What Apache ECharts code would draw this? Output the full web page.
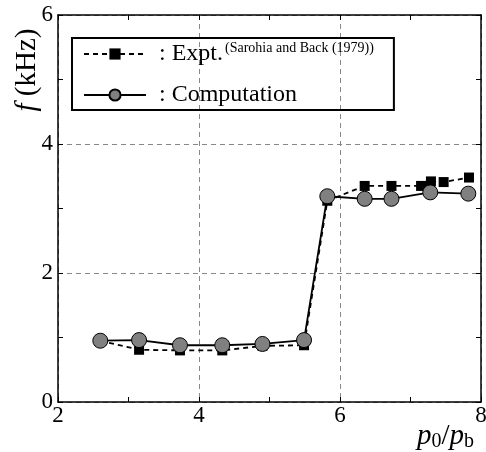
<!DOCTYPE html>
<html><head><meta charset="utf-8">
<script src="https://cdn.jsdelivr.net/npm/echarts@6/dist/echarts.min.js"></script>
<style>html,body{margin:0;padding:0;background:#fff}#c{width:486px;height:452px}</style>
</head><body><div id="c"></div>
<script>
// Data
const exptX = [2.60, 3.15, 3.73, 4.33, 4.90, 5.49, 5.82, 6.35, 6.73, 7.15, 7.29, 7.47, 7.83];
const exptY = [0.95, 0.81, 0.80, 0.80, 0.87, 0.88, 3.12, 3.35, 3.35, 3.35, 3.42, 3.41, 3.48];
const compX = [2.60, 3.15, 3.73, 4.33, 4.90, 5.49, 5.82, 6.35, 6.73, 7.28, 7.82];
const compY = [0.95, 0.96, 0.88, 0.88, 0.90, 0.96, 3.19, 3.15, 3.15, 3.25, 3.23];
const xTicks = [2, 4, 6, 8];
const yTicks = [0, 2, 4, 6];

const FONT = '"Liberation Serif", "Times New Roman", serif';
const chart = echarts.init(document.getElementById('c'));
const pair = (xs, ys) => xs.map((x, i) => [x, ys[i]]);

const tickCommon = {
  axisLine: {show: true, onZero: false, lineStyle: {color: '#000', width: 1.5}},
  axisTick: {show: true, inside: true, length: 5, lineStyle: {color: '#000', width: 1}},
  minorTick: {show: true, splitNumber: 2, length: 5, lineStyle: {color: '#000', width: 1}},
};

chart.setOption({
  animation: false,
  backgroundColor: '#fff',
  grid: {left: 58, right: 5, top: 15, bottom: 50, containLabel: false, outerBoundsMode: 'none'},
  xAxis: [{
    type: 'value', min: xTicks[0], max: xTicks[xTicks.length - 1], interval: 2,
    position: 'bottom',
    ...tickCommon,
    axisLabel: {color: '#000', fontFamily: FONT, fontSize: 23, margin: 2},
    splitLine: {show: true, lineStyle: {color: '#888', type: [5, 4], width: 1}}
  }, {
    type: 'value', min: xTicks[0], max: xTicks[xTicks.length - 1], interval: 2,
    position: 'top',
    ...tickCommon,
    axisLabel: {show: false},
    splitLine: {show: false}
  }],
  yAxis: [{
    type: 'value', min: yTicks[0], max: yTicks[yTicks.length - 1], interval: 2,
    position: 'left',
    ...tickCommon,
    axisLabel: {color: '#000', fontFamily: FONT, fontSize: 23, margin: 5},
    splitLine: {show: true, lineStyle: {color: '#888', type: [5, 4], width: 1}}
  }, {
    type: 'value', min: yTicks[0], max: yTicks[yTicks.length - 1], interval: 2,
    position: 'right',
    ...tickCommon,
    axisLabel: {show: false},
    splitLine: {show: false}
  }],
  legend: {
    orient: 'vertical', left: 72, top: 38,
    padding: [3, 20, 3, 11],
    itemWidth: 62, itemHeight: 14, itemGap: 16,
    borderColor: '#000', borderWidth: 2, borderRadius: 0,
    data: ['Expt', 'Computation'],
    formatter: function (name) {
      return name === 'Expt' ? '{a|: Expt.}{sup|(Sarohia and Back (1979))}' : '{a|: Computation}';
    },
    textStyle: {
      rich: {
        a: {fontFamily: FONT, fontSize: 24, color: '#000', padding: [0, 0, 0, 8], lineHeight: 30},
        sup: {fontFamily: FONT, fontSize: 14, color: '#000', padding: [0, 0, 12, 2], lineHeight: 30}
      }
    }
  },
  graphic: [{
    type: 'text', x: 27, y: 70, rotation: Math.PI / 2,
    style: {
      text: '{i|f}{n| (kHz)}', align: 'center', verticalAlign: 'middle',
      rich: {
        i: {fontFamily: FONT, fontSize: 29, fontStyle: 'italic', fill: '#000'},
        n: {fontFamily: FONT, fontSize: 29, fill: '#000'}
      }
    }
  }, {
    type: 'text', x: 474, y: 436,
    style: {
      text: '{i|p}{s|0}{n|/}{i|p}{s|b}', align: 'right', verticalAlign: 'middle',
      rich: {
        i: {fontFamily: FONT, fontSize: 29, fontStyle: 'italic', fill: '#000', lineHeight: 30},
        n: {fontFamily: FONT, fontSize: 29, fill: '#000', lineHeight: 30},
        s: {fontFamily: FONT, fontSize: 20, fill: '#000', padding: [12, 0, 0, 0], lineHeight: 30}
      }
    }
  }],
  series: [{
    name: 'Expt', type: 'line', data: pair(exptX, exptY),
    symbol: 'rect', symbolSize: 10,
    lineStyle: {color: '#000', width: 1.8, type: [5, 4]},
    itemStyle: {color: '#000', borderWidth: 0},
    z: 2
  }, {
    name: 'Computation', type: 'line', data: pair(compX, compY),
    symbol: 'circle', symbolSize: 15,
    lineStyle: {color: '#000', width: 1.8, type: 'solid'},
    itemStyle: {color: '#808080', borderColor: '#000', borderWidth: 1},
    z: 3
  }]
});
</script></body></html>
